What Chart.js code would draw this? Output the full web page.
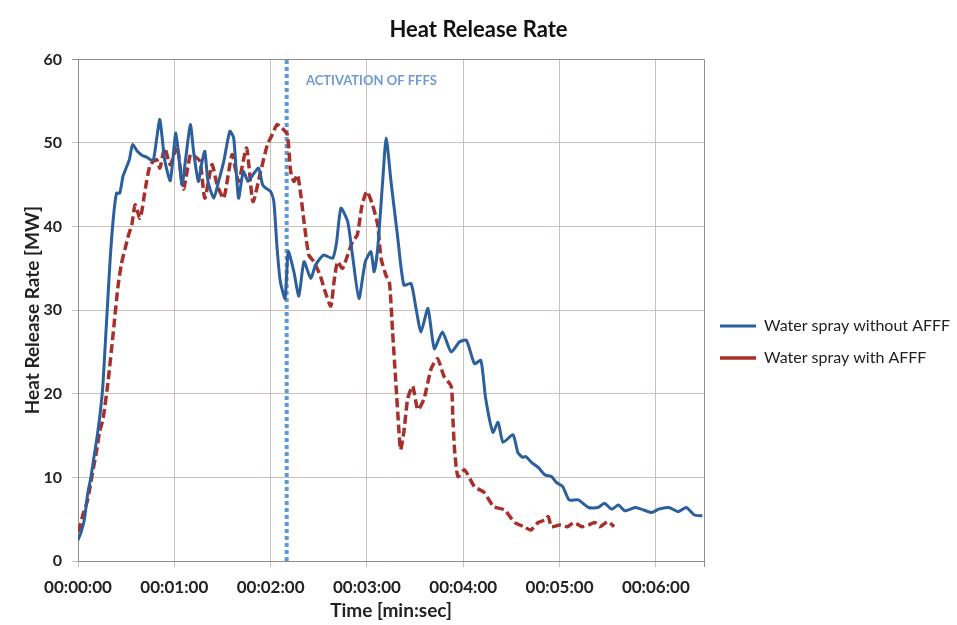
<!DOCTYPE html>
<html>
<head>
<meta charset="utf-8">
<script src="https://cdn.jsdelivr.net/npm/chart.js@4.4.1/dist/chart.umd.min.js"></script>
<style>
  body { margin: 0; background: #fff; }
</style>
</head>
<body>
<canvas id="hrrChart" width="957" height="625"></canvas>
<script>
// time in seconds, HRR in MW
const timeWithout = [0, 2, 4, 6, 8, 10, 12, 14, 15.5, 17, 18.5, 20, 22, 24, 26, 28, 30, 32, 34, 37, 40, 43, 45, 47, 49, 51, 54, 57.5, 61, 64.8, 67, 70, 72, 75, 77, 79, 81, 84.6, 87.6, 90.8, 94.6, 97, 100, 103, 106, 109, 112.5, 115, 117, 120, 122, 124, 126, 129, 131, 134.5, 137.6, 140.8, 145, 148, 153, 158.6, 161, 163.8, 168, 171, 175, 179, 182.5, 184.5, 186.7, 189.8, 192, 195, 199, 203, 207.5, 210.6, 213.7, 218, 222, 227, 232.5, 237.6, 242, 247, 251, 254, 258.5, 261.7, 264.8, 271, 274, 277, 279, 282.5, 286.7, 291, 295, 298, 302, 306, 311.7, 318, 324, 328, 332.5, 336.7, 340.6, 347, 351, 357.5, 361.7, 368, 374, 379, 384, 389];
const hrrWithout = [2.5, 3.5, 5, 8, 10, 12.5, 15, 18, 21, 26, 31, 36, 41, 44, 44, 46, 47, 48, 49.8, 49, 48.5, 48.3, 48, 48, 50.5, 52.8, 48, 45.5, 51.2, 45, 48, 52.2, 49, 45.4, 47.5, 49, 45.4, 43.4, 45.4, 47.8, 51.4, 50.6, 43.4, 46.6, 45.4, 46.2, 47, 45, 44.6, 44.2, 43, 37.5, 33.5, 31.4, 37, 34.6, 31.7, 35.8, 33.8, 35.4, 36.6, 36.2, 38, 42.2, 40.6, 36.6, 31.4, 35.8, 37, 34.6, 37.4, 45.4, 50.6, 45.4, 39, 33, 33.2, 30.2, 27.4, 30.2, 25.4, 27.4, 25, 26.2, 26.4, 23.6, 24, 19.4, 15.4, 16.6, 14.2, 15.1, 13, 12.4, 12.5, 11.8, 11.2, 10.3, 10.1, 9.4, 8.9, 7.3, 7.3, 6.4, 6.4, 6.9, 6.2, 6.7, 6, 6.4, 6.2, 5.8, 6.2, 6.4, 5.9, 6.4, 5.5, 5.4];

const timeWith = [0, 1.2, 3, 6, 9, 11.7, 13.5, 15.6, 18.7, 22, 25, 27, 29.4, 31.5, 33.5, 35.6, 38.7, 42, 45, 49, 51, 54, 57.5, 61.7, 65.6, 70, 72, 76, 79, 83.5, 86.7, 90.8, 96, 100, 105, 109, 113.8, 118, 121, 124, 127, 130.4, 132.5, 134.5, 136.7, 138.8, 140.8, 143.8, 147, 151, 154, 157.5, 159.5, 161.7, 164.8, 168, 171, 174, 177, 180, 183.5, 186.7, 188.8, 192, 194, 196, 198, 200, 201, 203, 205.4, 208.5, 211.7, 215.6, 220, 224, 228, 232.5, 233.5, 234.6, 236.7, 240.8, 247, 253, 259, 265.8, 272, 278, 282, 286.7, 291, 293, 295, 300, 305, 309, 314, 318, 322, 325, 330, 334];
const hrrWith = [3.5, 4.1, 5.5, 7.3, 10.5, 13.3, 15.5, 17, 21.4, 27.4, 33, 35.5, 37.4, 39, 40.2, 42.6, 41, 44.6, 47.4, 48, 47, 49.4, 47.4, 49.6, 44.5, 48.6, 48.5, 47.8, 43.4, 47.4, 45, 43.4, 48.6, 45.4, 49.4, 43, 46.6, 49.8, 51, 52.2, 51.8, 51, 46.6, 45.4, 46.2, 43.8, 40.6, 36.6, 35.8, 34.1, 32.2, 30.5, 33.4, 35.8, 35, 36.6, 38.2, 39, 42.6, 44.2, 42.6, 40.2, 36.2, 34.1, 33.4, 27.4, 21.4, 15.4, 13.3, 15.4, 19.4, 20.9, 18.1, 19.4, 23, 24.2, 22.1, 20.9, 17.3, 13.3, 10.1, 10.9, 8.9, 8.2, 6.5, 6.1, 4.6, 4.1, 3.7, 4.6, 4.9, 5.3, 4.1, 4.3, 4.1, 4.6, 4.1, 4.3, 4.6, 4.1, 4.7, 4.1];

const seriesLabels = ['Water spray without AFFF', 'Water spray with AFFF'];
const activationTime = 130;
const activationText = 'ACTIVATION OF FFFS';
const timeTicks = [0, 60, 120, 180, 240, 300, 360, 390];

const toPoints = (xs, ys) => xs.map((x, i) => ({ x: x, y: ys[i] }));

function fmtTime(sec) {
    if (sec >= 390) return '';
    const m = Math.floor(sec / 60);
    const s = sec % 60;
    return '00:' + String(m).padStart(2, '0') + ':' + String(s).padStart(2, '0');
}

// legend: fixed width so the plot ends where it does in the picture
const legendWidth = {
    id: 'legendWidth',
    beforeInit(chart) {
        const fit = chart.legend.fit;
        chart.legend.fit = function () {
            fit.call(this);
            this.width = 253;
        };
    }
};

const activationLabel = {
    id: 'activationLabel',
    afterDatasetsDraw(chart) {
        const { ctx, scales } = chart;
        ctx.save();
        ctx.font = 'bold 13px Lato';
        ctx.fillStyle = '#6f9bd2';
        ctx.textBaseline = 'middle';
        ctx.fillText(activationText, scales.x.getPixelForValue(142), scales.y.getPixelForValue(57.4));
        ctx.restore();
    }
};

const gridColor = '#cbbfbb';
const edgeColor = '#8e8e8e';

new Chart(document.getElementById('hrrChart'), {
    type: 'line',
    data: {
        datasets: [{
            label: seriesLabels[0],
            data: toPoints(timeWithout, hrrWithout),
            borderColor: '#2c5f9e',
            backgroundColor: '#2c5f9e',
            borderWidth: 3,
            pointRadius: 0,
            tension: 0.2
        }, {
            label: seriesLabels[1],
            data: toPoints(timeWith, hrrWith),
            borderColor: '#a8302b',
            backgroundColor: '#a8302b',
            borderWidth: 3.5,
            borderDash: [9, 4],
            pointRadius: 0,
            tension: 0.2
        }, {
            label: 'activation',
            data: [{ x: activationTime, y: 0 }, { x: activationTime, y: 60 }],
            borderColor: '#5b9bd5',
            borderWidth: 4,
            borderDash: [4, 3],
            pointRadius: 0
        }]
    },
    options: {
        responsive: false,
        animation: false,
        devicePixelRatio: 1,
        font: { family: 'Lato' },
        plugins: {
            title: {
                display: true,
                text: 'Heat Release Rate',
                color: '#111',
                font: { family: 'Lato', size: 22, weight: 'bold' },
                padding: { top: 17, bottom: 16 }
            },
            legend: {
                position: 'right',
                fullSize: false,
                title: { display: true, text: '', padding: { top: 49, bottom: 0 } },
                labels: {
                    filter: item => item.datasetIndex < 2,
                    usePointStyle: true,
                    pointStyle: 'line',
                    pointStyleWidth: 36,
                    color: '#222',
                    padding: 16,
                    font: { family: 'Lato', size: 16 }
                }
            },
            tooltip: { enabled: false }
        },
        scales: {
            x: {
                type: 'linear',
                min: 0,
                max: 390,
                afterBuildTicks: scale => { scale.ticks = timeTicks.map(v => ({ value: v })); },
                afterFit: scale => { scale.height = 64; },
                ticks: {
                    callback: v => fmtTime(v),
                    color: '#222',
                    padding: 10,
                    maxRotation: 0,
                    font: { family: 'Lato', size: 17, weight: 'bold' }
                },
                grid: {
                    color: c => (c.tick && c.tick.value === 390 ? edgeColor : gridColor),
                    tickLength: 6
                },
                border: { color: edgeColor },
                title: {
                    display: true,
                    text: 'Time [min:sec]',
                    color: '#222',
                    font: { family: 'Lato', size: 19, weight: 'bold' },
                    padding: { top: 0, bottom: 3 }
                }
            },
            y: {
                min: 0,
                max: 60,
                afterFit: scale => { scale.width = 78; },
                ticks: {
                    stepSize: 10,
                    color: '#222',
                    padding: 10,
                    font: { family: 'Lato', size: 16, weight: 'bold' }
                },
                grid: {
                    color: c => (c.tick && c.tick.value === 60 ? edgeColor : gridColor),
                    tickLength: 6
                },
                border: { color: edgeColor },
                title: {
                    display: true,
                    text: 'Heat Release Rate [MW]',
                    color: '#222',
                    font: { family: 'Lato', size: 19, weight: 'bold' },
                    padding: { top: 21, bottom: 0 }
                }
            }
        }
    },
    plugins: [legendWidth, activationLabel]
});
</script>
</body>
</html>
